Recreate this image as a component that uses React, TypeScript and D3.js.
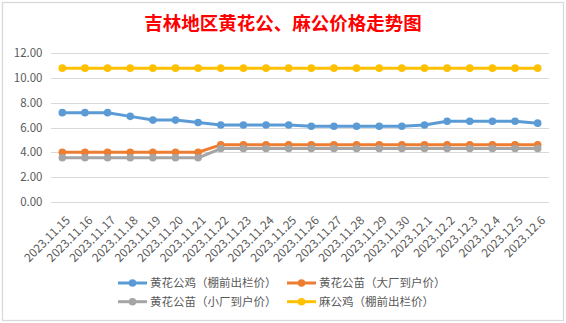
import React from "react";
import * as d3 from "d3";

const categories = [
  "2023.11.15", "2023.11.16", "2023.11.17", "2023.11.18", "2023.11.19", "2023.11.20",
  "2023.11.21", "2023.11.22", "2023.11.23", "2023.11.24", "2023.11.25", "2023.11.26",
  "2023.11.27", "2023.11.28", "2023.11.29", "2023.11.30", "2023.12.1", "2023.12.2",
  "2023.12.3", "2023.12.4", "2023.12.5", "2023.12.6",
];

const roosterShed = [7.2, 7.2, 7.2, 6.9, 6.6, 6.6, 6.4, 6.2, 6.2, 6.2, 6.2, 6.1, 6.1, 6.1, 6.1, 6.1, 6.2, 6.5, 6.5, 6.5, 6.5, 6.35];
const chickBigFactory = [4.0, 4.0, 4.0, 4.0, 4.0, 4.0, 4.0, 4.6, 4.6, 4.6, 4.6, 4.6, 4.6, 4.6, 4.6, 4.6, 4.6, 4.6, 4.6, 4.6, 4.6, 4.6];
const chickSmallFactory = [3.55, 3.55, 3.55, 3.55, 3.55, 3.55, 3.55, 4.3, 4.3, 4.3, 4.3, 4.3, 4.3, 4.3, 4.3, 4.3, 4.3, 4.3, 4.3, 4.3, 4.3, 4.3];
const maRooster = [10.8, 10.8, 10.8, 10.8, 10.8, 10.8, 10.8, 10.8, 10.8, 10.8, 10.8, 10.8, 10.8, 10.8, 10.8, 10.8, 10.8, 10.8, 10.8, 10.8, 10.8, 10.8];

const seriesNames = ["黄花公鸡（棚前出栏价）", "黄花公苗（大厂到户价）", "黄花公苗（小厂到户价）", "麻公鸡（棚前出栏价）"];
const seriesColors = ["#5B9BD5", "#ED7D31", "#A5A5A5", "#FFC000"];
const yTicks = [0, 2, 4, 6, 8, 10, 12];
const title = "吉林地区黄花公、麻公价格走势图";

const W = 566;
const H = 323;
const FONT = "'Noto Sans CJK SC', 'Open Sans', sans-serif";

export default function App() {
  const allSeries = [roosterShed, chickBigFactory, chickSmallFactory, maRooster];
  const x = d3.scaleBand<string>().domain(categories).range([51, 549]);
  const y = d3.scaleLinear().domain([0, 12]).range([201.7, 53.3]);
  const cx = (c: string) => (x(c) ?? 0) + x.bandwidth() / 2;
  const line = d3
    .line<number>()
    .x((_, i) => cx(categories[i]))
    .y((d) => y(d));
  const fmt = d3.format(".2f");

  const legendPos = [
    { lx: 118, ly: 283 },
    { lx: 287, ly: 283 },
    { lx: 118, ly: 301.7 },
    { lx: 287, ly: 301.7 },
  ];

  return (
    <svg
      width={W}
      height={H}
      style={{ position: "absolute", left: 0, top: 0, background: "#fff" }}
      fontFamily={FONT}
    >
      <rect x={0} y={0} width={W} height={H} fill="#fff" />
      <rect x={2.5} y={2.5} width={561} height={318} fill="#fff" stroke="#D9D9D9" strokeWidth={1.3} />
      <text x={283} y={30} textAnchor="middle" fill="#FF0000" fontSize={18.5} fontWeight="bold">
        {title}
      </text>
      {yTicks.map((t) => (
        <g key={t}>
          <line x1={51} x2={549} y1={Math.round(y(t)) + 0.5} y2={Math.round(y(t)) + 0.5} stroke="#D9D9D9" strokeWidth={1} />
          <text x={42.5} y={y(t)} dy="0.35em" textAnchor="end" fill="#595959" fontSize={11.5}>
            {fmt(t)}
          </text>
        </g>
      ))}
      {categories.map((c) => (
        <text
          key={c}
          transform={`translate(${cx(c) + 8.5},${221}) rotate(-45)`}
          textAnchor="end"
          fill="#595959"
          fontSize={11.8}
        >
          {c}
        </text>
      ))}
      {allSeries.map((s, si) => (
        <g key={si}>
          <path d={line(s) ?? ""} fill="none" stroke={seriesColors[si]} strokeWidth={3} strokeLinejoin="round" strokeLinecap="round" />
          {s.map((v, i) => (
            <circle key={i} cx={cx(categories[i])} cy={y(v)} r={3.8} fill={seriesColors[si]} />
          ))}
        </g>
      ))}
      {seriesNames.map((n, i) => (
        <g key={n}>
          <line x1={legendPos[i].lx} x2={legendPos[i].lx + 29} y1={legendPos[i].ly} y2={legendPos[i].ly} stroke={seriesColors[i]} strokeWidth={3} />
          <circle cx={legendPos[i].lx + 14.5} cy={legendPos[i].ly} r={3.8} fill={seriesColors[i]} />
          <text x={legendPos[i].lx + 32} y={legendPos[i].ly} dy="0.36em" fill="#595959" fontSize={11.5}>
            {n}
          </text>
        </g>
      ))}
    </svg>
  );
}
